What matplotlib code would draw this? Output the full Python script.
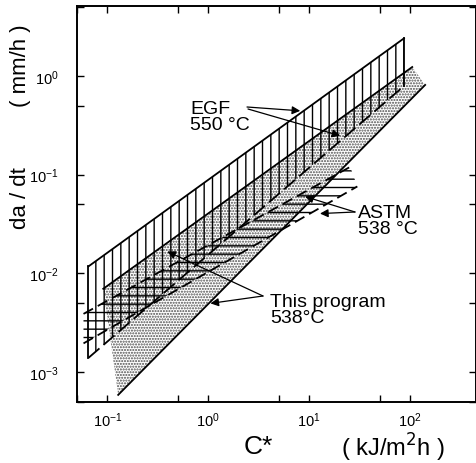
import matplotlib
matplotlib.use("Agg")
import matplotlib.pyplot as plt
from matplotlib.ticker import LogLocator, NullFormatter
import numpy as np

# band edges (C* in kJ/m2h, da/dt in mm/h)
egf_upper_x = [0.065, 87]
egf_upper_y = [0.0118, 2.4]
egf_lower_x = [0.065, 87]
egf_lower_y = [0.0014, 0.79]

prog_upper_x = [0.091, 105]
prog_upper_y = [0.0070, 1.23]
prog_lower_x = [0.128, 141]
prog_lower_y = [0.00059, 0.81]

astm_upper_x = [0.058, 25.5]
astm_upper_y = [0.0039, 0.12]
astm_lower_x = [0.058, 30]
astm_lower_y = [0.00196, 0.076]

plt.rcParams["font.family"] = ["Liberation Sans", "DejaVu Sans"]
plt.rcParams["hatch.linewidth"] = 1.0

W, H = 477, 464
fig = plt.figure(figsize=(W / 100, H / 100), dpi=100)
ax = fig.add_axes([77 / W, 1 - 403 / H, 399 / W, 396 / H])
ax.set_xscale("log")
ax.set_yscale("log")
ax.set_xlim(0.05, 450)
ax.set_ylim(5e-4, 5.1)


def band(ux, uy, lx, ly):
    return list(ux) + list(lx)[::-1], list(uy) + list(ly)[::-1]


# "This program" stippled band
px, py = band(prog_upper_x, prog_upper_y, prog_lower_x, prog_lower_y)
ax.fill(px, py, facecolor="none", edgecolor="0.3", hatch="......", linewidth=0)

# EGF vertical hatch
ex, ey = band(egf_upper_x, egf_upper_y, egf_lower_x, egf_lower_y)
ax.fill(ex, ey, facecolor="none", edgecolor="black", hatch="||", linewidth=0)

# ASTM horizontal hatch
ax_, ay_ = band(astm_upper_x, astm_upper_y, astm_lower_x, astm_lower_y)
ax.fill(ax_, ay_, facecolor="none", edgecolor="black", hatch="--", linewidth=0)

lw = 1.3
ax.plot(egf_upper_x, egf_upper_y, color="black", lw=lw)
ax.plot(egf_lower_x, egf_lower_y, color="black", lw=lw, dashes=(8, 3))
ax.plot([egf_upper_x[0], egf_lower_x[0]], [egf_upper_y[0], egf_lower_y[0]], color="black", lw=lw)
ax.plot([egf_upper_x[-1], egf_lower_x[-1]], [egf_upper_y[-1], egf_lower_y[-1]], color="black", lw=lw)
ax.plot(prog_upper_x, prog_upper_y, color="black", lw=lw)
ax.plot(prog_lower_x, prog_lower_y, color="black", lw=lw)
ax.plot(astm_upper_x, astm_upper_y, color="black", lw=lw, dashes=(6, 3))
ax.plot(astm_lower_x, astm_lower_y, color="black", lw=lw, dashes=(6, 3))


def axpos(px_, py_):
    return ((px_ - 77) / 399, (403 - py_) / 396)


arrow = dict(arrowstyle="-|>", lw=0.9, color="black", mutation_scale=12,
             shrinkA=0, shrinkB=0)
for tgt, src in [((8.15, 0.443), (247, 108)), ((20.3, 0.248), (248, 110)),
                 ((9.12, 0.060), (355, 213)), ((12.8, 0.0404), (355, 213)),
                 ((0.393, 0.0167), (263, 297)), ((1.05, 0.00498), (263, 297))]:
    ax.annotate("", xy=tgt, xycoords="data", xytext=axpos(*src),
                textcoords="axes fraction", arrowprops=arrow)

tfs = 14
ax.text(*axpos(190, 101), "EGF\n550 °C", transform=ax.transAxes, fontsize=tfs,
        ha="left", va="top", linespacing=0.95)
ax.text(*axpos(358, 205), "ASTM\n538 °C", transform=ax.transAxes, fontsize=tfs,
        ha="left", va="top", linespacing=0.95)
ax.text(*axpos(270, 294), "This program\n538°C", transform=ax.transAxes, fontsize=tfs,
        ha="left", va="top", linespacing=0.95)

for axis in (ax.xaxis, ax.yaxis):
    axis.set_major_locator(LogLocator(base=10, numticks=20))
    axis.set_minor_locator(LogLocator(base=10, subs=[5], numticks=20))
    axis.set_minor_formatter(NullFormatter())
ax.tick_params(which="both", direction="in", top=True, right=True,
               length=5, width=1.0, labelsize=10.5)
ax.tick_params(axis="y", which="both", pad=13)
ax.tick_params(axis="x", which="both", pad=6)
for s in ax.spines.values():
    s.set_linewidth(1.4)

fig.text(21 / W, 1 - 198 / H, "da / dt", rotation=90, fontsize=16,
         ha="center", va="center")
fig.text(21 / W, 1 - 66 / H, "( mm/h )", rotation=90, fontsize=16,
         ha="center", va="center")
fig.text(258 / W, 1 - 447 / H, "C*", fontsize=19, ha="center", va="center")
fig.text(393 / W, 1 - 448 / H, "( kJ/m$^2$h )", fontsize=17, ha="center", va="center")

fig.savefig("out.png", dpi=100)
